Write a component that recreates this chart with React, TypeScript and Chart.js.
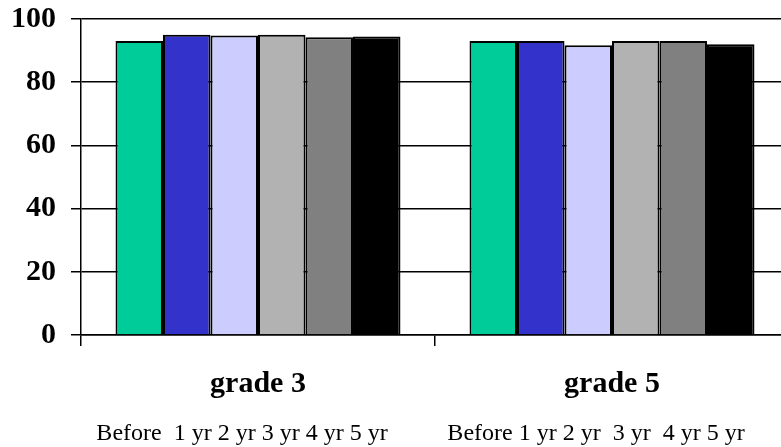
import React, { useEffect, useRef } from "react";
import { Chart, registerables } from "chart.js";

Chart.register(...registerables);

const categories = ["grade 3", "grade 5"];
const periodLabels = [
  "Before  1 yr 2 yr 3 yr 4 yr 5 yr",
  "Before 1 yr 2 yr  3 yr  4 yr 5 yr",
];
const seriesNames = ["Before", "1 yr", "2 yr", "3 yr", "4 yr", "5 yr"];
const beforeValues = [93, 93];
const yr1Values = [95, 93];
const yr2Values = [94.8, 91.7];
const yr3Values = [95, 93];
const yr4Values = [94.2, 93];
const yr5Values = [94.5, 92];
const seriesColors = ["#00CC99", "#3333CC", "#CCCCFF", "#B2B2B2", "#808080", "#000000"];
const yTicks = [0, 20, 40, 60, 80, 100];

const FONT = "'Times New Roman', 'Liberation Serif', serif";

export default function App() {
  const ref = useRef<HTMLCanvasElement | null>(null);

  useEffect(() => {
    if (!ref.current) return;
    const values = [beforeValues, yr1Values, yr2Values, yr3Values, yr4Values, yr5Values];
    const chart = new Chart(ref.current, {
      type: "bar",
      data: {
        labels: categories,
        datasets: seriesNames.map((name, i) => ({
          label: name,
          data: values[i],
          backgroundColor: seriesColors[i],
          borderColor: "#000000",
          borderWidth: 2,
          categoryPercentage: 0.805,
          barPercentage: 1.0,
        })),
      },
      options: {
        responsive: false,
        animation: false,
        devicePixelRatio: 1,
        layout: { padding: { top: 19, right: 11, left: 0, bottom: 0 } },
        plugins: {
          legend: { display: false },
          tooltip: { enabled: false },
          title: { display: false },
        },
        scales: {
          x: {
            type: "category",
            position: "bottom",
            weight: 0,
            offset: true,
            grid: {
              display: true,
              drawOnChartArea: false,
              drawTicks: true,
              tickLength: 11,
              color: "#000000",
              lineWidth: 1.5,
              offset: true,
            },
            border: { display: true, color: "#000000", width: 1.5 },
            ticks: {
              color: "#000000",
              font: { family: FONT, size: 30, weight: "bold" },
              padding: 20,
              maxRotation: 0,
              autoSkip: false,
            },
            afterFit: (axis: any) => {
              axis.height = 72;
            },
          },
          x2: {
            type: "category",
            position: "bottom",
            weight: 1,
            labels: periodLabels,
            offset: true,
            grid: { display: false, drawTicks: false },
            border: { display: false },
            ticks: {
              color: "#000000",
              font: { family: FONT, size: 24, weight: "normal" },
              padding: 12,
              labelOffset: -16,
              maxRotation: 0,
              autoSkip: false,
            },
            afterFit: (axis: any) => {
              axis.height = 40;
            },
          },
          y: {
            min: 0,
            max: 100,
            afterBuildTicks: (axis: any) => {
              axis.ticks = yTicks.map((v) => ({ value: v }));
            },
            grid: {
              color: "#000000",
              lineWidth: 1.5,
              drawTicks: true,
              tickLength: 10,
            },
            border: { display: true, color: "#000000", width: 1.5 },
            ticks: {
              color: "#000000",
              font: { family: FONT, size: 30, weight: "bold" },
              padding: 15,
            },
            afterFit: (axis: any) => {
              axis.width = 81;
              axis.paddingTop = 0;
              axis.paddingBottom = 0;
            },
          },
        },
      },
    });
    return () => chart.destroy();
  }, []);

  return (
    <div
      style={{
        position: "fixed",
        left: 0,
        top: 0,
        width: 781,
        height: 447,
        overflow: "hidden",
        background: "#ffffff",
      }}
    >
      <canvas ref={ref} width={800} height={447} style={{ display: "block" }} />
    </div>
  );
}
